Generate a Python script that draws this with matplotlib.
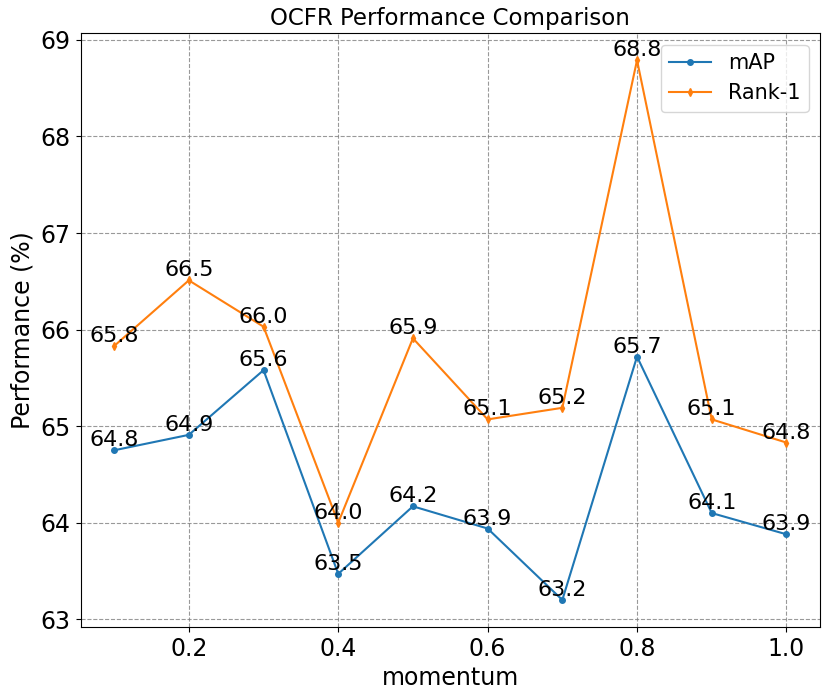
import numpy as np
import matplotlib.pyplot as plt

momentum = [0.1, 0.2, 0.3, 0.4, 0.5, 0.6, 0.7, 0.8, 0.9, 1.0]
map_vals = [64.75, 64.91, 65.58, 63.47, 64.17, 63.94, 63.20, 65.72, 64.10, 63.88]
rank1_vals = [65.83, 66.51, 66.03, 64.00, 65.91, 65.07, 65.19, 68.79, 65.07, 64.83]

fig, ax = plt.subplots(figsize=(8.3, 6.92), dpi=100)
ax.plot(momentum, map_vals, marker='o', markersize=4, label='mAP')
ax.plot(momentum, rank1_vals, marker='d', markersize=4, label='Rank-1')

for x, y in zip(momentum, map_vals):
    ax.text(x, y, f'{y:.1f}', ha='center', va='bottom', fontsize=16)
for x, y in zip(momentum, rank1_vals):
    ax.text(x, y, f'{y:.1f}', ha='center', va='bottom', fontsize=16)

ax.set_xlabel('momentum', fontsize=17)
ax.set_ylabel('Performance (%)', fontsize=17)
ax.set_title('OCFR Performance Comparison', fontsize=16.5)
ax.tick_params(labelsize=17)
ax.grid(True, linestyle='--', color='gray', alpha=0.8)
ax.legend(fontsize=15, loc='upper right', borderaxespad=0.55)
plt.subplots_adjust(left=0.097, right=0.988, top=0.952, bottom=0.094)
plt.savefig('out.png', dpi=100)
